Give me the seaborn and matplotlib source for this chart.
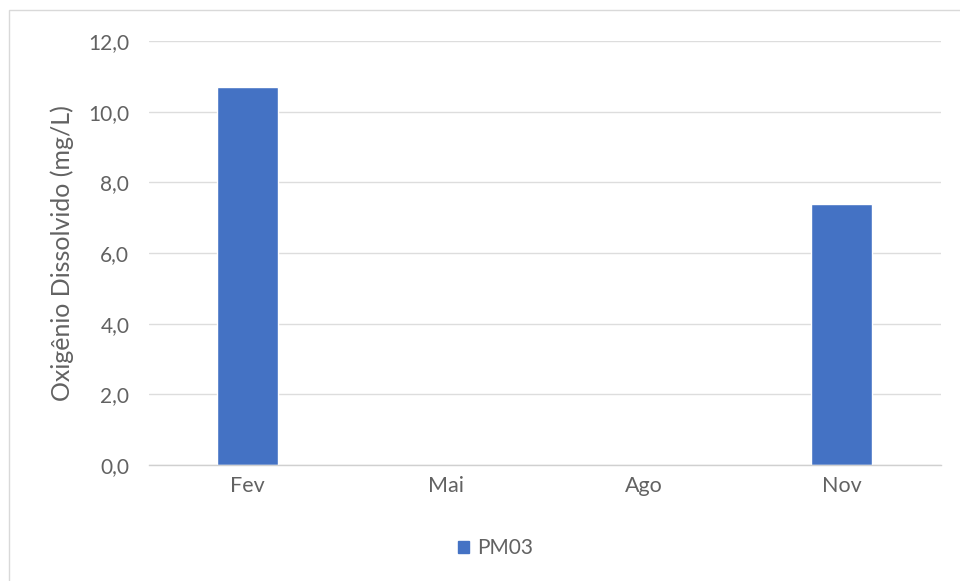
import matplotlib
matplotlib.use("Agg")
import matplotlib.pyplot as plt
import seaborn as sns
import pandas as pd
from matplotlib.patches import Rectangle

# Dissolved oxygen campaign values for station PM03
months = ["Fev", "Mai", "Ago", "Nov"]
pm03 = [10.7, 0.0, 0.0, 7.4]
yticks = [0, 2, 4, 6, 8, 10, 12]
ytick_labels = ["0,0", "2,0", "4,0", "6,0", "8,0", "10,0", "12,0"]

df = pd.DataFrame({"Mês": months, "OD": pm03, "Ponto": "PM03"})

sns.set_theme(style="white")
plt.rcParams["font.family"] = ["Lato", "DejaVu Sans"]

text_color = "#626262"
bar_color = "#4472C4"

fig = plt.figure(figsize=(9.6, 5.81), dpi=100)
ax = fig.add_axes([0.155, 0.200, 0.825, 0.729])

sns.barplot(data=df, x="Mês", y="OD", hue="Ponto", palette=[bar_color],
            width=0.31, ax=ax, legend=False, saturation=1)

ax.set_ylim(0, 12)
ax.set_xlim(-0.5, 3.5)
ax.set_yticks(yticks)
ax.set_yticklabels(ytick_labels)
ax.set_axisbelow(True)
ax.yaxis.grid(True, color="#dddddd", linewidth=1.0)
ax.xaxis.grid(False)
for side in ["top", "right", "left"]:
    ax.spines[side].set_visible(False)
ax.spines["bottom"].set_color("#d0d0d0")
ax.spines["bottom"].set_linewidth(1.0)

ax.tick_params(axis="y", length=0, labelsize=15, colors=text_color, pad=14)
ax.tick_params(axis="x", length=0, labelsize=15.5, colors=text_color, pad=8)
ax.set_xlabel("")
ax.set_ylabel("Oxigênio Dissolvido (mg/L)", fontsize=18, color=text_color, labelpad=10)

# Legend below the plot area
handle = Rectangle((0, 0), 1, 1, color=bar_color)
fig.legend([handle], ["PM03"], loc="center", bbox_to_anchor=(0.516, 0.056),
           frameon=False, fontsize=15, handlelength=0.55, handleheight=0.55,
           handletextpad=0.35, labelcolor=text_color)

# Outer chart border
fig.patches.append(Rectangle((9 / 960, -0.05), 1.2, 1 - 10 / 581 + 0.05,
                             transform=fig.transFigure, fill=False,
                             edgecolor="#d9d9d9", linewidth=1.0))

fig.savefig("out.png", dpi=100)
